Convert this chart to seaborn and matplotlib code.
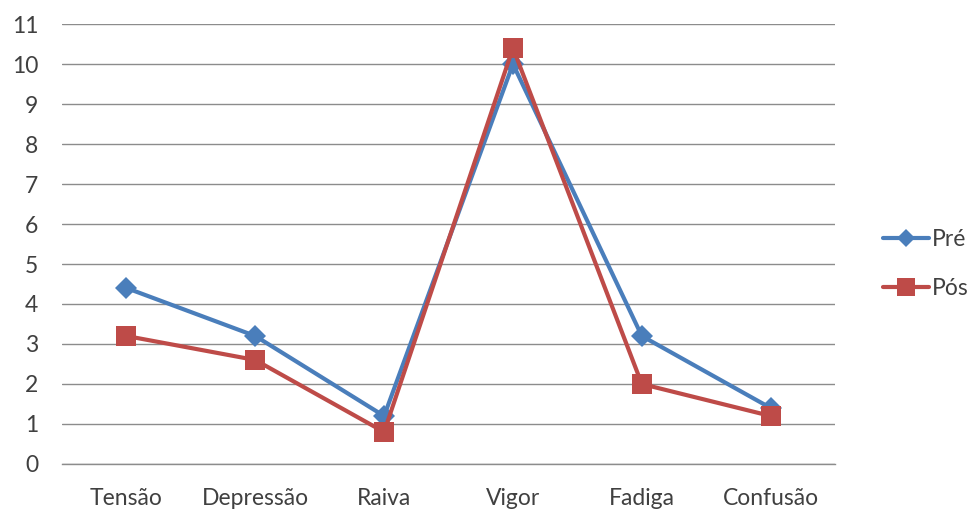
import numpy as np
import pandas as pd
import seaborn as sns
import matplotlib.pyplot as plt

categorias = ["Tensão", "Depressão", "Raiva", "Vigor", "Fadiga", "Confusão"]
pre = [4.4, 3.2, 1.2, 10.0, 3.2, 1.4]
pos = [3.2, 2.6, 0.8, 10.4, 2.0, 1.2]

df = pd.DataFrame({
    "categoria": categorias * 2,
    "valor": pre + pos,
    "serie": ["Pré"] * len(pre) + ["Pós"] * len(pos),
})

sns.set_style("white")
plt.rcParams["font.family"] = ["Lato", "DejaVu Sans"]

fig = plt.figure(figsize=(9.79, 5.11), dpi=100)
ax = fig.add_axes([0.0633, 0.092, 0.7897, 0.861])

cores = {"Pré": "#4A7EBB", "Pós": "#BE4B48"}
sns.lineplot(data=df, x="categoria", y="valor", hue="serie", style="serie",
             palette=cores, markers={"Pré": "D", "Pós": "s"}, dashes=False,
             linewidth=3, markersize=15, markeredgewidth=0, sort=False, ax=ax)
# diamonds a bit smaller than squares
for ln in ax.lines:
    if ln.get_marker() == "D":
        ln.set_markersize(11)

ax.set_ylim(0, 11)
ax.set_yticks(range(0, 12))
ax.set_xlim(-0.5, len(categorias) - 0.5)
ax.yaxis.grid(True, color="#8c8c8c", linewidth=1)
ax.set_axisbelow(True)
for s in ["top", "right", "left"]:
    ax.spines[s].set_visible(False)
ax.spines["bottom"].set_color("#8c8c8c")
ax.spines["bottom"].set_linewidth(1)
ax.set_xlabel("")
ax.set_ylabel("")

ax.set_xticks(np.arange(-0.5, len(categorias)), minor=True)
ax.tick_params(axis="x", which="minor", length=6, color="#8c8c8c", width=1, direction="out")
ax.tick_params(axis="x", which="major", length=0, labelsize=16.5, colors="#404040", pad=17)
ax.tick_params(axis="y", length=0, labelsize=16.5, colors="#404040", pad=17)

leg = ax.legend(title=None, frameon=False, loc="center left", bbox_to_anchor=(1.035, 0.455),
                fontsize=16.5, handlelength=2.0, handletextpad=0.15, labelspacing=1.2,
                labelcolor="#404040")
for h in leg.legend_handles:
    h.set_markersize(9 if h.get_marker() == "D" else 13)

fig.savefig("out.png", dpi=100)
